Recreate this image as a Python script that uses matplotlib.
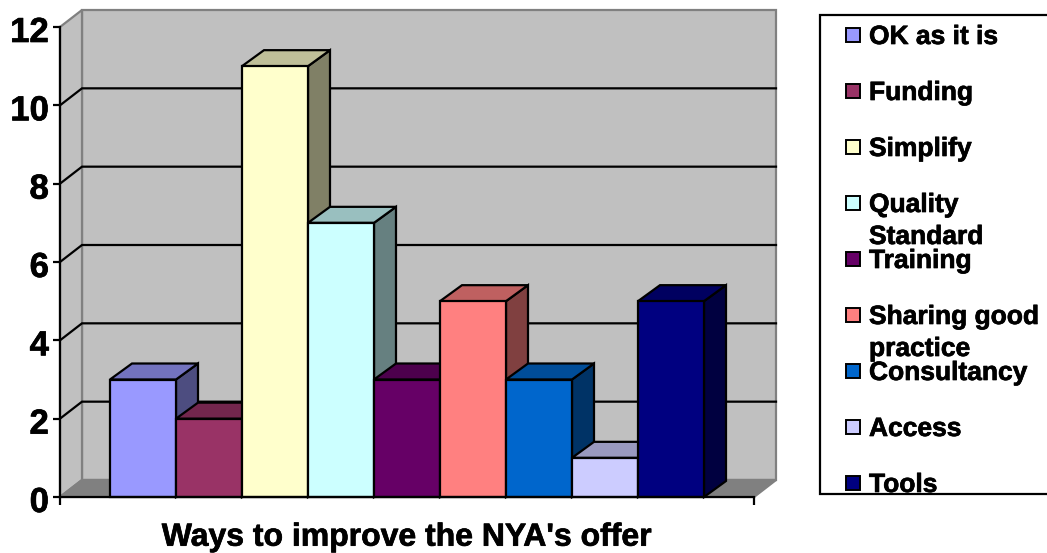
import matplotlib
matplotlib.use("agg")
import matplotlib.pyplot as plt
import matplotlib.patheffects as pe
from matplotlib.colors import to_rgb
from matplotlib.patches import Polygon, Rectangle
from matplotlib.transforms import ScaledTranslation

categories = ["OK as it is", "Funding", "Simplify", "Quality\nStandard", "Training",
              "Sharing good\npractice", "Consultancy", "Access", "Tools"]
values = [3, 2, 11, 7, 3, 5, 3, 1, 5]
colors = ["#9999FF", "#993366", "#FFFFCC", "#CCFFFF", "#660066",
          "#FF8080", "#0066CC", "#CCCCFF", "#000080"]
y_ticks = [0, 2, 4, 6, 8, 10, 12]
x_title = "Ways to improve the NYA's offer"

W, H = 1047, 553
plt.rcParams["font.family"] = ["Liberation Sans", "DejaVu Sans"]
plt.rcParams["font.weight"] = "bold"
LW = 1.6
heavy = [pe.withStroke(linewidth=0.5, foreground="black")]

# plot box in pixels of the original picture
left, right, top, bottom = 60, 754, 27, 497
px_x = 66.0
px_y = (bottom - top) / 12.0
margin = 50 / px_x
wall_dx, wall_dy = 22 / px_x, 17 / px_y
bar_dx, bar_dy = 22 / px_x, 16 / px_y


def shade(color, k):
    return tuple(c * k for c in to_rgb(color))


def poly(ax, pts, face, edge="black", lw=LW, z=1):
    ax.add_patch(Polygon(pts, closed=True, facecolor=face, edgecolor=edge, linewidth=lw,
                         zorder=z, clip_on=False, joinstyle="miter"))


fig = plt.figure(figsize=(W / 100, H / 100), dpi=100)
ax = fig.add_axes([left / W, 1 - bottom / H, (right - left) / W, (bottom - top) / H])
ax.patch.set_visible(False)
xmin, xmax = -0.5 - margin, len(values) - 0.5 + margin
ax.set_xlim(xmin, xmax)
ax.set_ylim(0, 12)

# walls and floor
poly(ax, [(xmin + wall_dx, wall_dy), (xmax + wall_dx, wall_dy),
          (xmax + wall_dx, 12 + wall_dy), (xmin + wall_dx, 12 + wall_dy)], "#C0C0C0", "#808080", z=0.5)
poly(ax, [(xmin, 0), (xmin + wall_dx, wall_dy), (xmin + wall_dx, 12 + wall_dy), (xmin, 12)],
     "#C0C0C0", "#808080", z=0.6)
poly(ax, [(xmin, 0), (xmin + wall_dx, wall_dy), (xmax + wall_dx, wall_dy), (xmax, 0)],
     "#808080", "#808080", z=0.7)

# gridlines, back wall plus the slant on the side wall
for t in y_ticks[1:-1]:
    ax.plot([xmin, xmin + wall_dx, xmax + wall_dx], [t, t + wall_dy, t + wall_dy], color="black",
            lw=LW, clip_on=False, zorder=0.8, solid_joinstyle="miter")

# bars, left to right so the next one hides the side of the previous
for i, (v, c) in enumerate(zip(values, colors)):
    z = 2 + i * 0.1
    x0, x1 = i - 0.5, i + 0.5
    poly(ax, [(x1, 0), (x1 + bar_dx, bar_dy), (x1 + bar_dx, v + bar_dy), (x1, v)], shade(c, 0.5), z=z)
    poly(ax, [(x0, v), (x1, v), (x1 + bar_dx, v + bar_dy), (x0 + bar_dx, v + bar_dy)], shade(c, 0.75), z=z)
    ax.bar(i, v, width=1, color=c, edgecolor="black", linewidth=LW, zorder=z + 0.01, clip_on=False)

for s in ("top", "right"):
    ax.spines[s].set_visible(False)
for s in ("left", "bottom"):
    ax.spines[s].set_linewidth(LW)
    ax.spines[s].set_zorder(4)
ax.set_yticks(y_ticks)
ax.set_xticks([xmin, xmax])
ax.set_xticklabels([])
ax.tick_params(axis="y", length=5, width=LW, labelsize=25, pad=3)
ax.tick_params(axis="x", length=6, width=LW)
# the numbers sit a little under their ticks in the original
nudge = ScaledTranslation(0, -2 / 100, fig.dpi_scale_trans)
for lab in ax.get_yticklabels():
    lab.set_transform(lab.get_transform() + nudge)
    lab.set_path_effects(heavy)
xl = ax.set_xlabel(x_title, fontsize=23, fontweight="bold", labelpad=9)
xl.set_path_effects(heavy)

# legend as a pixel-space overlay, the box runs off the right edge
lg = fig.add_axes([0, 0, 1, 1], zorder=5)
lg.set_xlim(0, W)
lg.set_ylim(H, 0)
lg.axis("off")
lg.add_patch(Rectangle((820, 15), 260, 479, facecolor="white", edgecolor="black", linewidth=LW, zorder=1))
row_y, row_step = 35, 56
for i, (name, c) in enumerate(zip(categories, colors)):
    y = row_y + i * row_step
    lg.add_patch(Rectangle((846, y - 7), 14, 14, facecolor=c, edgecolor="black", linewidth=1.4, zorder=2))
    for k, line in enumerate(name.split("\n")):
        lg.text(869, y + 9 + k * 32, line, fontsize=19, fontweight="bold", va="baseline", ha="left",
                zorder=3, path_effects=heavy)

fig.savefig("out.png", dpi=100)
